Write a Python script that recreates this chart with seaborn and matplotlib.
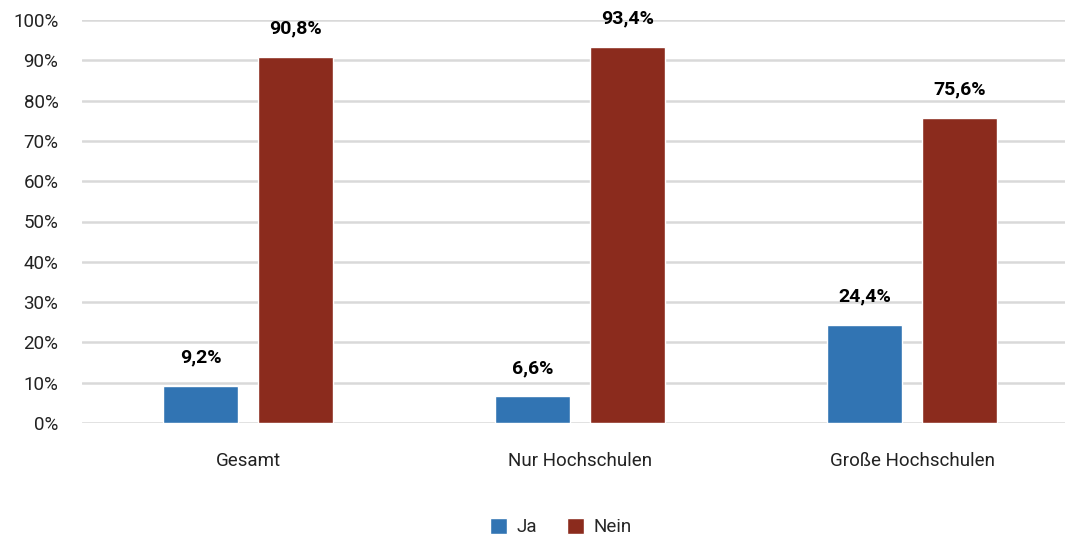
import pandas as pd
import seaborn as sns
import matplotlib.pyplot as plt
from matplotlib.patches import Patch

# Data
categories = ["Gesamt", "Nur Hochschulen", "Große Hochschulen"]
ja_values = [9.2, 6.6, 24.4]
nein_values = [90.8, 93.4, 75.6]
series_names = ["Ja", "Nein"]
colors = {"Ja": "#3174b3", "Nein": "#8b2b1d"}

df = pd.DataFrame({
    "Kategorie": categories * 2,
    "Antwort": ["Ja"] * len(categories) + ["Nein"] * len(categories),
    "Wert": ja_values + nein_values,
})

sns.set_theme(style="white")
plt.rcParams["font.family"] = ["Roboto", "DejaVu Sans"]

fig = plt.figure(figsize=(10.68, 5.37), dpi=100)
ax = fig.add_axes([82 / 1068, (537 - 423) / 537, (1065 - 82) / 1068, (423 - 20) / 537])

sns.barplot(
    data=df,
    x="Kategorie",
    y="Wert",
    hue="Antwort",
    palette=colors,
    width=0.572,
    gap=0.21,
    ax=ax,
    legend=False,
    saturation=1,
)

ax.set_xlim(-0.5, 2.46)
ax.set_ylim(0, 100)
ax.set_yticks(range(0, 101, 10))
ax.set_yticklabels([f"{v}%" for v in range(0, 101, 10)], fontsize=13.5, color="#222222")
ax.tick_params(axis="x", labelsize=13.5, colors="#222222", pad=21, length=0)
ax.tick_params(axis="y", length=0, pad=17)
ax.set(xlabel=None, ylabel=None)
ax.spines[["top", "right", "bottom", "left"]].set_visible(False)
ax.grid(axis="y", color="#d9d9d9", linewidth=1.8)
ax.set_axisbelow(True)

for container in ax.containers:
    ax.bar_label(
        container,
        labels=[f"{b.get_height():.1f}%".replace(".", ",") for b in container],
        padding=14,
        fontsize=14,
        fontweight="bold",
        color="black",
        clip_on=False,
    )

handles = [Patch(facecolor=colors[s], label=s) for s in series_names]
fig.legend(
    handles=handles,
    loc="center",
    bbox_to_anchor=(0.525, 0.018),
    ncol=2,
    frameon=False,
    fontsize=13.5,
    handlelength=0.9,
    handleheight=0.9,
    columnspacing=1.6,
    handletextpad=0.5,
)

fig.savefig("out.png", dpi=100)
